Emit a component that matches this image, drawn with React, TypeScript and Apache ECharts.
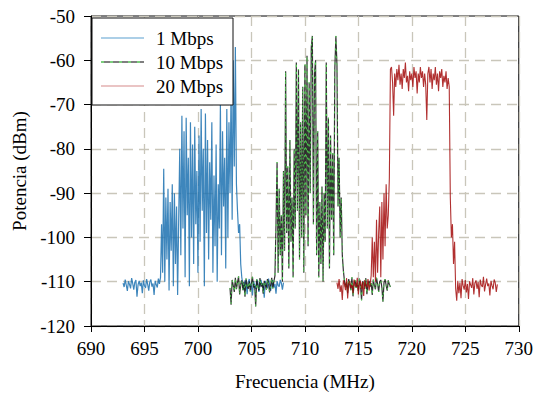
import { useEffect, useRef } from "react";
import * as echarts from "echarts";

// Spectrum analyser sweeps: 15 MHz span each, one sample every 0.1 MHz
const FREQ_STEP = 0.1;
const START_1MBPS = 693;
const START_10MBPS = 703;
const START_20MBPS = 713;

// Power readings (dBm), in sweep order
const power1Mbps = [
  -110.3, -111.2, -109.5, -110.8, -112.1, -109.9, -110.6, -111.5, -109.2, -110.4,
  -111.8, -110.1, -109.6, -113.4, -110.7, -109.8, -111.0, -110.2, -112.6, -109.7,
  -110.9, -111.4, -109.4, -110.6, -112.0, -110.0, -109.5, -111.1, -110.4, -113.0,
  -109.8, -110.7, -111.3, -109.3, -110.5, -109.0, -97, -108, -84.5, -110,
  -91, -105, -89, -112, -92, -103, -88, -111, -90, -106,
  -93, -113, -96, -80, -104, -72.5, -98, -76, -109, -73,
  -95, -82, -111, -74, -100, -79, -106, -75, -97, -85,
  -108, -77, -101, -71, -94, -80, -111, -72, -99, -78,
  -105, -83, -96, -74, -108, -86, -102, -79, -110, -88,
  -98, -70, -104, -76, -93, -82, -107, -71, -100, -74,
  -90, -66, -96, -60, -84, -57, -88, -94, -99, -97,
  -106, -109, -110.6, -111.9, -109.7, -110.3, -112.8, -110.1, -109.4, -111.2,
  -110.5, -113.1, -109.9, -110.8, -111.6, -109.5, -110.2, -112.3, -110.9, -109.6,
  -111.0, -110.4, -113.6, -109.8, -110.7, -111.5, -109.3, -110.6, -112.1, -110.0,
  -109.7, -111.3, -110.5, -112.7, -109.9, -110.8, -111.1, -109.6, -110.3, -111.8,
  -110.2,
];

const power10Mbps = [
  -111.4, -115.2, -109.6, -110.9, -112.3, -109.1, -111.7, -110.2, -108.8, -112.9,
  -110.5, -109.7, -111.9, -110.1, -113.4, -109.3, -110.8, -111.6, -109.9, -112.2,
  -110.4, -108.9, -111.3, -110.7, -115.6, -109.5, -110.9, -112.0, -109.2, -111.1,
  -110.3, -112.7, -109.8, -110.6, -111.8, -109.4, -110.2, -112.4, -110.8, -109.1,
  -111.5, -110.0, -108.7, -97, -83, -108, -89, -104, -95, -110,
  -85, -103, -62.5, -99, -84, -107, -78, -101, -91, -109,
  -80, -98, -60.5, -94, -62, -105, -74, -100, -66, -108,
  -61, -95, -59, -102, -65, -90, -57, -54.5, -97, -63,
  -60, -104, -76, -109, -92, -106, -88.5, -110, -90, -101,
  -60.5, -98, -73, -107, -77, -96, -81, -104, -62, -54.5,
  -61, -93, -82, -100, -91, -104, -107.5, -109.8, -111.2, -110.1,
  -112.6, -109.4, -110.7, -111.9, -109.0, -113.3, -110.5, -109.7, -111.4, -110.2,
  -112.1, -109.3, -110.8, -114.2, -109.9, -110.4, -111.6, -109.2, -112.8, -110.6,
  -109.8, -111.1, -110.3, -113.0, -109.5, -110.9, -111.7, -109.1, -110.5, -112.3,
  -110.0, -109.6, -111.3, -114.5, -110.2, -109.4, -110.8, -112.0, -109.7, -110.6,
  -111.2,
];

const power20Mbps = [
  -110.2, -111.6, -109.4, -112.3, -110.8, -114.1, -109.7, -110.5, -111.9, -109.2,
  -113.8, -110.3, -109.9, -111.4, -110.7, -112.6, -109.5, -110.9, -111.2, -109.1,
  -112.9, -110.4, -109.8, -111.7, -110.1, -113.2, -109.6, -110.8, -111.3, -109.4,
  -112.0, -110.6, -108.6, -100, -109, -101, -110, -96, -108, -99,
  -93, -109, -92, -105, -90, -102, -88, -98, -95, -86.5,
  -62, -61.5, -65, -72.5, -63, -66, -62, -64.5, -61, -65.5,
  -63, -66.5, -62, -64, -60.5, -65, -63.5, -67, -62.5, -64.5,
  -63, -66, -61.5, -64, -62.5, -67.5, -63, -65, -61.5, -64,
  -62.5, -66, -63, -65.5, -73.5, -63, -61.5, -65, -62, -66.5,
  -63, -64.5, -61.5, -65.5, -63, -67, -62.5, -64, -62, -66,
  -63.5, -65, -62.5, -66.5, -64, -66, -91, -100, -97, -106,
  -101, -111.5, -114.3, -109.8, -112.6, -110.2, -113.7, -109.4, -110.9, -111.8,
  -109.6, -112.4, -110.5, -113.9, -109.9, -110.7, -111.4, -109.2, -112.9, -110.3,
  -109.7, -111.6, -110.1, -113.5, -109.5, -110.8, -111.2, -108.9, -112.2, -110.6,
  -109.3, -111.0, -110.4, -113.1, -109.8, -110.9, -111.7, -109.5, -110.2, -112.3,
  -110.6,
];

const seriesNames = ["1 Mbps", "10 Mbps", "20 Mbps"];

const X_MIN = 690;
const X_MAX = 730;
const X_INTERVAL = 5;
const Y_MIN = -120;
const Y_MAX = -50;
const Y_INTERVAL = 10;

const FONT = "'Liberation Serif', 'DejaVu Serif', serif";

function toPairs(start: number, values: number[]): number[][] {
  return values.map((v, i) => [Number((start + i * FREQ_STEP).toFixed(2)), v]);
}

export default function App() {
  const ref = useRef<HTMLDivElement>(null);

  useEffect(() => {
    if (!ref.current) return;
    const chart = echarts.init(ref.current, null, { renderer: "svg" });

    const gridLine = { type: [10, 6] as number[], color: "#c9c6ba", width: 1.3 };
    const axisText = { fontFamily: FONT, fontSize: 19, color: "#000" };

    const data1 = toPairs(START_1MBPS, power1Mbps);
    const data10 = toPairs(START_10MBPS, power10Mbps);
    const data20 = toPairs(START_20MBPS, power20Mbps);

    const legendX = 101;
    const legendRows = [38, 62, 86];

    chart.setOption({
      animation: false,
      backgroundColor: "#fff",
      grid: {
        left: 91,
        right: 13,
        top: 16,
        bottom: 71,
        show: true,
        borderColor: "#000",
        borderWidth: 1,
        backgroundColor: "transparent",
      },
      xAxis: {
        type: "value",
        min: X_MIN,
        max: X_MAX,
        interval: X_INTERVAL,
        name: "Frecuencia (MHz)",
        nameLocation: "middle",
        nameGap: 46,
        nameTextStyle: axisText,
        axisLine: { lineStyle: { color: "#000", width: 1 } },
        axisTick: { show: true, length: 6, lineStyle: { color: "#000" } },
        axisLabel: { ...axisText, margin: 13 },
        splitLine: { show: true, lineStyle: gridLine },
      },
      yAxis: {
        type: "value",
        min: Y_MIN,
        max: Y_MAX,
        interval: Y_INTERVAL,
        name: "Potencia (dBm)",
        nameLocation: "middle",
        nameGap: 58,
        nameTextStyle: axisText,
        axisLine: { show: true, lineStyle: { color: "#000", width: 1 } },
        axisTick: { show: true, length: 7, lineStyle: { color: "#000" } },
        axisLabel: { ...axisText, margin: 16 },
        splitLine: { show: true, lineStyle: gridLine },
      },
      series: [
        {
          name: seriesNames[0],
          type: "line",
          data: data1,
          showSymbol: false,
          symbol: "none",
          z: 2,
          lineStyle: { color: "#1c71b0", width: 1.2, opacity: 0.85 },
        },
        {
          name: seriesNames[1],
          type: "line",
          data: data10,
          showSymbol: false,
          symbol: "none",
          z: 3,
          lineStyle: { color: "#111", width: 1.2, opacity: 0.85 },
        },
        {
          name: seriesNames[1] + " trazo",
          type: "line",
          data: data10,
          showSymbol: false,
          symbol: "none",
          z: 4,
          lineStyle: { color: "#52ea52", width: 1, type: [2, 5], opacity: 0.8 },
        },
        {
          name: seriesNames[2],
          type: "line",
          data: data20,
          showSymbol: false,
          symbol: "none",
          z: 5,
          lineStyle: { color: "#a30c0c", width: 1.1, opacity: 0.85 },
        },
      ],
      graphic: [
        {
          type: "rect",
          z: 100,
          shape: { x: 92, y: 18, width: 141, height: 87 },
          style: { fill: "#fff", stroke: "#111", lineWidth: 1 },
        },
        {
          type: "line",
          z: 101,
          shape: { x1: legendX, y1: legendRows[0], x2: legendX + 43, y2: legendRows[0] },
          style: { stroke: "#5aa0d0", lineWidth: 1.2 },
        },
        {
          type: "line",
          z: 101,
          shape: { x1: legendX, y1: legendRows[1], x2: legendX + 43, y2: legendRows[1] },
          style: { stroke: "#555", lineWidth: 1.4 },
        },
        {
          type: "line",
          z: 102,
          shape: { x1: legendX, y1: legendRows[1], x2: legendX + 43, y2: legendRows[1] },
          style: { stroke: "#7be87b", lineWidth: 1.4, lineDash: [3, 6] },
        },
        {
          type: "line",
          z: 101,
          shape: { x1: legendX, y1: legendRows[2], x2: legendX + 43, y2: legendRows[2] },
          style: { stroke: "#d58a8a", lineWidth: 1.2 },
        },
        ...seriesNames.map((name, i) => ({
          type: "text",
          z: 101,
          x: 156,
          y: legendRows[i],
          style: {
            text: name,
            font: `19px ${FONT}`,
            fill: "#000",
            textVerticalAlign: "middle",
            verticalAlign: "middle",
          },
        })),
      ],
    });

    return () => chart.dispose();
  }, []);

  return (
    <div
      ref={ref}
      style={{ position: "fixed", left: 0, top: 0, width: 536, height: 397 }}
    />
  );
}
